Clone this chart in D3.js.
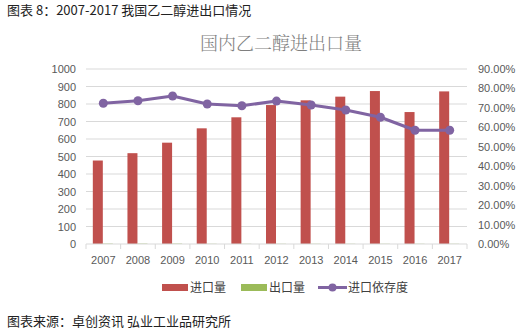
<!DOCTYPE html>
<html><head><meta charset="utf-8">
<script src="https://cdn.jsdelivr.net/npm/d3@7"></script>
<style>
body{margin:0;background:#fff;}
svg{display:block;font-family:"Noto Sans CJK SC","Microsoft YaHei",sans-serif;}
</style></head>
<body><svg id="c" width="524" height="335"></svg>
<script>
const years = ["2007","2008","2009","2010","2011","2012","2013","2014","2015","2016","2017"];
const importVol = [477, 519, 579, 661, 724, 794, 821, 842, 874, 754, 872];
const exportVol = [2, 2, 2, 1, 1, 1, 1, 1, 1, 1, 1];
const dependency = [0.724, 0.737, 0.761, 0.720, 0.711, 0.735, 0.715, 0.689, 0.652, 0.585, 0.585];
const leftTicks = [0,100,200,300,400,500,600,700,800,900,1000];
const rightTicks = [0,0.1,0.2,0.3,0.4,0.5,0.6,0.7,0.8,0.9];
const seriesNames = ["进口量","出口量","进口依存度"];

const svg = d3.select("#c");
const M = {left:86, right:467, top:69, bottom:244};
const x = d3.scaleBand().domain(years).range([M.left, M.right]).paddingInner(0).paddingOuter(0);
const yL = d3.scaleLinear().domain([0,1000]).range([M.bottom, M.top]);
const yR = d3.scaleLinear().domain([0,0.9]).range([M.bottom, M.top]);
const textColor = "#595959";

// header & footer
svg.append("text").attr("x",7).attr("y",15).attr("font-size",13).attr("font-weight",400).attr("fill","#222")
  .text("图表 8：2007-2017 我国乙二醇进出口情况");
svg.append("text").attr("x",7).attr("y",326).attr("font-size",13).attr("font-weight",400).attr("fill","#222")
  .text("图表来源：卓创资讯 弘业工业品研究所");
// chart title
svg.append("text").attr("x",281).attr("y",50).attr("text-anchor","middle").attr("font-size",18)
  .attr("font-weight",300).attr("fill","#7f7f7f").attr("font-family","'Noto Serif CJK SC','Noto Sans CJK SC',serif")
  .text("国内乙二醇进出口量");

// gridlines
svg.append("g").selectAll("line").data(leftTicks.slice(1)).join("line")
  .attr("x1",M.left).attr("x2",M.right).attr("y1",d=>yL(d)).attr("y2",d=>yL(d))
  .attr("stroke","#d9d9d9").attr("stroke-width",1);

// left axis
const gl = svg.append("g").attr("transform",`translate(${M.left-10},0)`)
  .call(d3.axisLeft(yL).tickValues(leftTicks).tickSize(0).tickPadding(0).tickFormat(d3.format("d")));
gl.select(".domain").remove();
gl.selectAll("text").attr("font-size",11).attr("fill",textColor).attr("font-family","'Liberation Sans',Arial,sans-serif");

// right axis
const gr = svg.append("g").attr("transform",`translate(${M.right+11},0)`)
  .call(d3.axisRight(yR).tickValues(rightTicks).tickSize(0).tickPadding(0).tickFormat(d3.format(".2%")));
gr.select(".domain").remove();
gr.selectAll("text").attr("font-size",11).attr("fill",textColor).attr("font-family","'Liberation Sans',Arial,sans-serif");

// bars
const bw = 10;
svg.append("g").selectAll("rect").data(years).join("rect")
  .attr("x",d=>x(d)+x.bandwidth()/2-bw-0.5).attr("width",bw)
  .attr("y",(d,i)=>yL(importVol[i])).attr("height",(d,i)=>yL(0)-yL(importVol[i]))
  .attr("fill","#c0504d");
svg.append("g").selectAll("rect").data(years).join("rect")
  .attr("x",d=>x(d)+x.bandwidth()/2-0.5).attr("width",bw)
  .attr("y",(d,i)=>yL(exportVol[i])).attr("height",(d,i)=>yL(0)-yL(exportVol[i]))
  .attr("fill","#9bbb59");

// x axis
const gx = svg.append("g").attr("transform",`translate(0,${M.bottom})`);
gx.append("line").attr("x1",M.left).attr("x2",M.right).attr("stroke","#d9d9d9");
gx.selectAll("line.t").data(d3.range(years.length+1)).join("line").attr("class","t")
  .attr("x1",i=>M.left+i*x.bandwidth()).attr("x2",i=>M.left+i*x.bandwidth())
  .attr("y1",0).attr("y2",5).attr("stroke","#d9d9d9");
gx.selectAll("text").data(years).join("text")
  .attr("x",d=>x(d)+x.bandwidth()/2).attr("y",20).attr("text-anchor","middle")
  .attr("font-size",11).attr("fill",textColor).attr("font-family","'Liberation Sans',Arial,sans-serif")
  .text(d=>d);

// line
const line = d3.line().x((d,i)=>x(years[i])+x.bandwidth()/2).y(d=>yR(d));
svg.append("path").datum(dependency).attr("d",line).attr("fill","none")
  .attr("stroke","#8064a2").attr("stroke-width",3).attr("stroke-linejoin","round");
svg.append("g").selectAll("circle").data(dependency).join("circle")
  .attr("cx",(d,i)=>x(years[i])+x.bandwidth()/2).attr("cy",d=>yR(d)).attr("r",4.5)
  .attr("fill","#8064a2");

// legend
const lg = svg.append("g").attr("font-size",12).attr("fill","#404040");
lg.append("rect").attr("x",162).attr("y",284).attr("width",26).attr("height",7).attr("fill","#c0504d");
lg.append("text").attr("x",190).attr("y",292).text(seriesNames[0]);
lg.append("rect").attr("x",241).attr("y",284).attr("width",26).attr("height",7).attr("fill","#9bbb59");
lg.append("text").attr("x",269).attr("y",292).text(seriesNames[1]);
lg.append("line").attr("x1",318).attr("x2",347).attr("y1",287.5).attr("y2",287.5).attr("stroke","#8064a2").attr("stroke-width",3);
lg.append("circle").attr("cx",332.5).attr("cy",287.5).attr("r",4).attr("fill","#8064a2");
lg.append("text").attr("x",348).attr("y",292).text(seriesNames[2]);
</script></body></html>
